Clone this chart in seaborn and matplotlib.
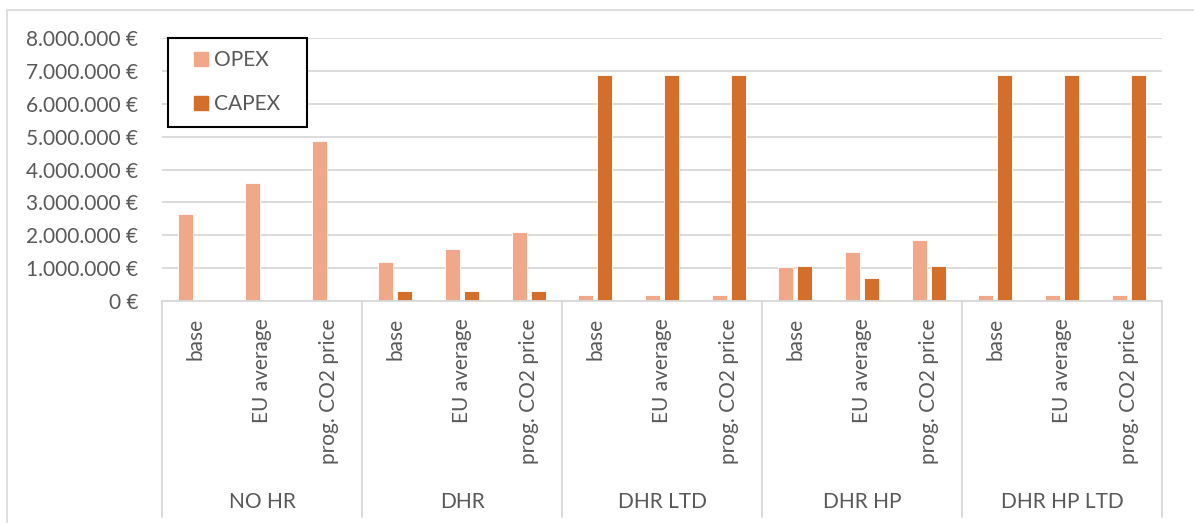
import matplotlib
matplotlib.use("Agg")
import matplotlib.pyplot as plt
from matplotlib.lines import Line2D
from matplotlib.patches import Rectangle
from matplotlib.ticker import FuncFormatter, MultipleLocator
import matplotlib.transforms as mtransforms
import pandas as pd
import seaborn as sns

# Heat-recovery configurations and price scenarios
groups = ["NO HR", "DHR", "DHR LTD", "DHR HP", "DHR HP LTD"]
scenarios = ["base", "EU average", "prog. CO2 price"]

# Costs in euro, one value per (configuration, scenario)
opex = [2650000, 3600000, 4880000,
        1180000, 1570000, 2090000,
        170000, 170000, 170000,
        1020000, 1490000, 1850000,
        170000, 170000, 170000]
capex = [0, 0, 0,
         290000, 290000, 290000,
         6880000, 6880000, 6880000,
         1060000, 680000, 1060000,
         6880000, 6880000, 6880000]

series = ["OPEX", "CAPEX"]
colors = {"OPEX": "#F0A888", "CAPEX": "#D36F2A"}

slots = [f"{g}|{s}" for g in groups for s in scenarios]
df = pd.DataFrame({
    "slot": slots * 2,
    "cost": ["OPEX"] * len(slots) + ["CAPEX"] * len(slots),
    "value": opex + capex,
})

sns.set_theme(style="white")
plt.rcParams["font.family"] = ["Lato", "DejaVu Sans"]
text_color = "#595959"
line_color = "#D9D9D9"
fs = 15

W, H = 1194, 523
fig = plt.figure(figsize=(W / 100, H / 100), dpi=100)
fig.patch.set_facecolor("white")

# outer chart frame
fig.patches.append(Rectangle((7 / W, -0.1), 1.2, (H - 10) / H + 0.1,
                             transform=fig.transFigure, fill=False,
                             edgecolor=line_color, linewidth=1.2))

ax = fig.add_axes([162 / W, (H - 300.7) / H, 1000 / W, 262.4 / H])

sns.barplot(data=df, x="slot", y="value", hue="cost", order=slots,
            hue_order=series, palette=colors, width=0.57, dodge=True,
            saturation=1, errorbar=None, legend=False, ax=ax,
            edgecolor="white", linewidth=0.6)

# narrower bars with a small gap between the pair
bar_w = 0.225
for p in ax.patches:
    c = p.get_x() + p.get_width() / 2
    p.set_width(bar_w)
    p.set_x(c - bar_w / 2)

ax.set_xlim(-0.5, len(slots) - 0.5)
ax.set_ylim(0, 8000000)
ax.yaxis.set_major_locator(MultipleLocator(1000000))
ax.yaxis.set_major_formatter(
    FuncFormatter(lambda v, _: f"{int(round(v)):,}".replace(",", ".") + " €"))
ax.grid(axis="y", color=line_color, linewidth=1.3)
ax.set_axisbelow(True)
for side in ["left", "right", "top"]:
    ax.spines[side].set_visible(False)
ax.spines["bottom"].set_color(line_color)
ax.spines["bottom"].set_linewidth(1.3)

ax.set_xlabel("")
ax.set_ylabel("")
ax.set_xticks(range(len(slots)))
ax.set_xticklabels([s for g in groups for s in scenarios], rotation=90,
                   va="top", ha="center")
ax.tick_params(axis="x", length=0, pad=12.5, labelsize=fs, labelcolor=text_color)
ax.tick_params(axis="y", length=0, pad=17, labelsize=fs, labelcolor=text_color)

# group dividers and group names below the axis
trans = mtransforms.blended_transform_factory(ax.transData, ax.transAxes)
y_bottom = (300.7 - 517) / 262.4
for i in range(len(groups) + 1):
    x = i * len(scenarios) - 0.5
    ax.plot([x, x], [0, y_bottom], transform=trans, color=line_color,
            linewidth=1.3, clip_on=False)
y_group = (300.7 - 502) / 262.4
for i, g in enumerate(groups):
    ax.text(i * len(scenarios) + 1, y_group, g, transform=trans,
            ha="center", va="center", fontsize=fs, color=text_color)

handles = [Line2D([], [], marker="s", linestyle="none", markersize=9.5,
                  markerfacecolor=colors[s], markeredgecolor=colors[s])
           for s in series]
leg = fig.legend(handles, series, loc="upper left",
                 bbox_to_anchor=(168 / W, 1 - 38 / H, 139 / W, 0),
                 mode="expand", frameon=True, fancybox=False,
                 edgecolor="black", framealpha=1, fontsize=fs,
                 borderpad=0.6, labelspacing=1.15, handlelength=2.0,
                 handletextpad=-0.4, borderaxespad=0)
leg.get_frame().set_linewidth(1.5)
for t in leg.get_texts():
    t.set_color(text_color)

fig.savefig("out.png", dpi=100, facecolor="white")
